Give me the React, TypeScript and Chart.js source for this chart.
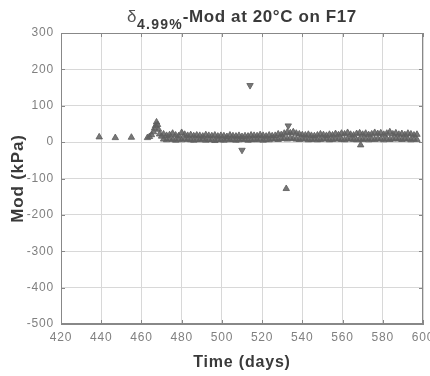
import React, { useEffect, useRef } from "react";
import { Chart, registerables } from "chart.js";

Chart.register(...registerables);

const xTicks = [420, 440, 460, 480, 500, 520, 540, 560, 580, 600];
const yTicks = [300, 200, 100, 0, -100, -200, -300, -400, -500];

const earlyDays = [439, 447, 455];
const earlyMod = [14, 12, 13];

const clusterDays = [463, 464, 465, 466, 466.5, 467, 467.5, 468, 468.5, 469, 470];
const clusterMod = [12, 15, 20, 28, 38, 45, 55, 48, 35, 22, 16];

const bandDays = [
  471, 472.5, 474, 475.5, 477, 478.5, 480, 481.5, 483, 484.5, 486, 487.5, 489, 490.5, 492, 493.5, 495,
  496.5, 498, 499.5, 501, 502.5, 504, 505.5, 507, 508.5, 510, 511.5, 513, 514.5, 516, 517.5, 519, 520.5,
  522, 523.5, 525, 526.5, 528, 529.5, 531, 532.5, 534, 535.5, 537, 538.5, 540, 541.5, 543, 544.5, 546,
  547.5, 549, 550.5, 552, 553.5, 555, 556.5, 558, 559.5, 561, 562.5, 564, 565.5, 567, 568.5, 570, 571.5,
  573, 574.5, 576, 577.5, 579, 580.5, 582, 583.5, 585, 586.5, 588, 589.5, 591, 592.5, 594, 595.5, 597,
];
const bandHigh = [
  22, 18, 20, 24, 19, 17, 26, 21, 18, 20, 17, 19, 18, 16, 20, 18, 17, 19, 16, 18, 17, 15, 19, 17, 16, 18,
  15, 17, 16, 19, 18, 17, 20, 18, 16, 19, 17, 18, 22, 20, 24, 27, 25, 28, 24, 22, 20, 19, 21, 18, 17, 19,
  22, 20, 18, 21, 19, 23, 20, 24, 22, 26, 21, 19, 23, 25, 21, 24, 20, 22, 26, 23, 25, 21, 24, 28, 22, 25,
  21, 23, 20, 24, 22, 19, 21,
];
const bandLow = [
  8, 6, 9, 7, 5, 8, 6, 9, 7, 6, 5, 7, 6, 8, 5, 7, 6, 4, 7, 6, 5, 8, 6, 7, 5, 6, 8, 7, 5, 6, 7, 6, 8, 5, 7,
  6, 9, 8, 7, 9, 10, 8, 11, 9, 8, 7, 9, 8, 6, 7, 8, 6, 7, 9, 8, 6, 7, 9, 8, 7, 6, 8, 9, 7, 6, 8, 7, 9, 6,
  8, 7, 9, 8, 6, 9, 7, 8, 10, 8, 7, 9, 8, 6, 8, 7,
];

const downDays = [514, 533, 510];
const downMod = [156, 45, -22];
const upOutDays = [532, 569];
const upOutMod = [-128, -8];

const pts = (xs: number[], ys: number[]) => xs.map((x, i) => ({ x, y: ys[i] }));

const markerColor = "rgba(95,95,95,0.85)";
const FONT = "Liberation Sans";

export default function App() {
  const ref = useRef<HTMLCanvasElement | null>(null);

  useEffect(() => {
    document.body.style.margin = "0";
    const ctx = ref.current!.getContext("2d")!;
    const base = {
      showLine: false,
      pointStyle: "triangle",
      pointRadius: 3.7,
      pointBackgroundColor: markerColor,
      pointBorderColor: markerColor,
      pointBorderWidth: 1,
    };
    const spacing = (c: any) => {
      (c.ctx as any).letterSpacing = "0.8px";
    };
    const chart = new Chart(ctx, {
      type: "scatter",
      data: {
        datasets: [
          { ...base, data: pts(earlyDays, earlyMod) },
          { ...base, data: pts(clusterDays, clusterMod) },
          { ...base, data: pts(bandDays, bandHigh) },
          { ...base, data: pts(bandDays, bandLow) },
          { ...base, data: pts(upOutDays, upOutMod) },
          { ...base, pointRotation: 180, data: pts(downDays, downMod) },
        ],
      },
      options: {
        animation: false,
        responsive: false,
        layout: { padding: { top: 33, right: 7, left: 0, bottom: 0 } },
        plugins: { legend: { display: false }, tooltip: { enabled: false } },
        scales: {
          x: {
            type: "linear",
            min: 420,
            max: 600,
            afterBuildTicks: (s: any) => {
              s.ticks = xTicks.map((v) => ({ value: v }));
            },
            afterFit: (s: any) => {
              s.height = 52;
              s.paddingLeft = 0;
              s.paddingRight = 0;
            },
            grid: { color: "#d8d8d8", tickLength: 0, drawTicks: false },
            border: { color: "#888", width: 1 },
            ticks: {
              color: "#808080",
              font: { family: FONT, size: 12 },
              padding: 6,
              maxRotation: 0,
            },
            title: {
              display: true,
              text: "Time (days)",
              color: "#3a3a3a",
              font: { family: FONT, size: 16, weight: "bold" },
              padding: { top: 3 },
            },
          },
          y: {
            type: "linear",
            min: -500,
            max: 300,
            afterBuildTicks: (s: any) => {
              s.ticks = yTicks.map((v) => ({ value: v }));
            },
            afterFit: (s: any) => {
              s.width = 61;
              s.paddingTop = 0;
              s.paddingBottom = 0;
            },
            grid: { color: "#d8d8d8", tickLength: 0, drawTicks: false },
            border: { color: "#888", width: 1 },
            ticks: {
              color: "#808080",
              font: { family: FONT, size: 12 },
              padding: 7,
            },
            title: {
              display: true,
              text: "Mod (kPa)",
              color: "#3a3a3a",
              font: { family: FONT, size: 17, weight: "bold" },
              padding: { bottom: 0, top: 8 },
            },
          },
        },
      },
      plugins: [
        {
          id: "spacing",
          beforeInit: spacing,
          beforeUpdate: spacing,
          beforeLayout: spacing,
          beforeDraw: spacing,
        },
        {
          id: "frame",
          afterDraw(c: any) {
            const { left, right, top, bottom } = c.chartArea;
            const g = c.ctx;
            const xs = c.scales.x;
            const ys = c.scales.y;
            g.save();
            g.strokeStyle = "#888";
            g.lineWidth = 1;
            g.strokeRect(left + 0.5, top + 0.5, right - left - 1, bottom - top - 1);
            g.beginPath();
            xTicks.forEach((v) => {
              const px = Math.round(xs.getPixelForValue(v)) + 0.5;
              g.moveTo(px, top);
              g.lineTo(px, top + 4);
              g.moveTo(px, bottom);
              g.lineTo(px, bottom - 4);
            });
            yTicks.forEach((v) => {
              const py = Math.round(ys.getPixelForValue(v)) + 0.5;
              g.moveTo(left, py);
              g.lineTo(left + 4, py);
              g.moveTo(right, py);
              g.lineTo(right - 4, py);
            });
            g.stroke();
            g.restore();
          },
        },
      ],
    } as any);
    return () => chart.destroy();
  }, []);

  return (
    <div style={{ position: "absolute", left: 0, top: 0, width: 430, height: 376, background: "#fff" }}>
      <canvas ref={ref} width={430} height={376} style={{ position: "absolute", left: 0, top: 0 }} />
      <div
        style={{
          position: "absolute",
          left: 127,
          top: 8,
          fontFamily: FONT,
          fontWeight: "bold",
          fontSize: 17,
          letterSpacing: "0.6px",
          lineHeight: "18px",
          color: "#3a3a3a",
          whiteSpace: "nowrap",
        }}
      >
        <span style={{ fontWeight: "normal", color: "#555" }}>δ</span>
        <sub style={{ fontSize: 14, lineHeight: "0", verticalAlign: "-7px", letterSpacing: "1.2px" }}>4.99%</sub>
        -Mod at 20°C on F17
      </div>
    </div>
  );
}
